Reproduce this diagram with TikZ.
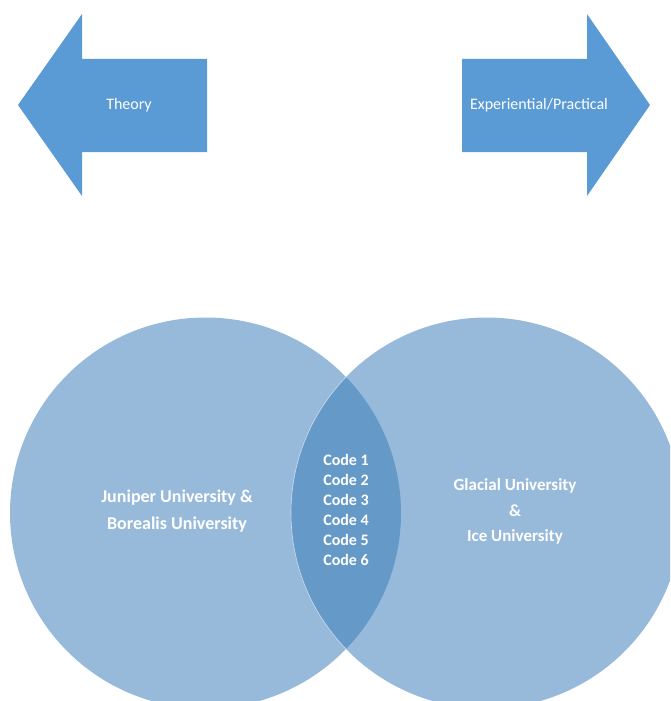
\documentclass[tikz,border=0pt]{standalone}
\usepackage{fontspec}
\setmainfont{Carlito}
\usetikzlibrary{positioning}

\definecolor{arrowblue}{RGB}{91,155,213}
\definecolor{circleblue}{RGB}{151,186,219}
\definecolor{lensblue}{RGB}{101,153,199}

\begin{document}
\begin{tikzpicture}[
  x=1pt, y=-1pt,
  arrowshape/.style={fill=arrowblue, draw=none},
  setshape/.style={fill=circleblue, draw=none},
  arrowlabel/.style={text=white, font=\fontsize{16}{18}\selectfont},
  setlabel/.style={text=white, align=center, font=\bfseries\fontsize{18}{27}\selectfont},
  codelabel/.style={text=white, align=center, font=\bfseries\fontsize{16}{20}\selectfont}
]
\useasboundingbox (0,0) rectangle (670,701);
\clip (0,0) rectangle (670,701);

% arrows
\fill[arrowshape] (18,105) -- (82,14) -- (82,59) -- (207,59) -- (207,152) -- (82,152) -- (82,196) -- cycle;
\fill[arrowshape] (650,105) -- (587,14) -- (587,59) -- (462,59) -- (462,152) -- (587,152) -- (587,196) -- cycle;
\node[arrowlabel] (theory) at (129,105) {Theory};
\node[arrowlabel] (practice) at (539,105) {Experiential/Practical};

% sets
\coordinate (leftc) at (205.5,513);
\coordinate (rightc) at (486.5,513);
\fill[setshape] (leftc) circle[radius=195.5];
\fill[setshape] (rightc) circle[radius=195.5];
\begin{scope}
  \clip (leftc) circle[radius=195.5];
  \fill[lensblue] (rightc) circle[radius=195.5];
  \draw[white, opacity=0.6, line width=0.6pt] (rightc) circle[radius=195.5];
\end{scope}

\node[setlabel] (juniper) at (177,511) {Juniper University \&\\Borealis University};
\node[setlabel, font=\bfseries\fontsize{17}{25.5}\selectfont] (glacial) at (515,511.5) {Glacial University\\\&\\Ice University};
\node[codelabel] (codes) at (346,510) {Code 1\\Code 2\\Code 3\\Code 4\\Code 5\\Code 6};

\end{tikzpicture}
\end{document}
